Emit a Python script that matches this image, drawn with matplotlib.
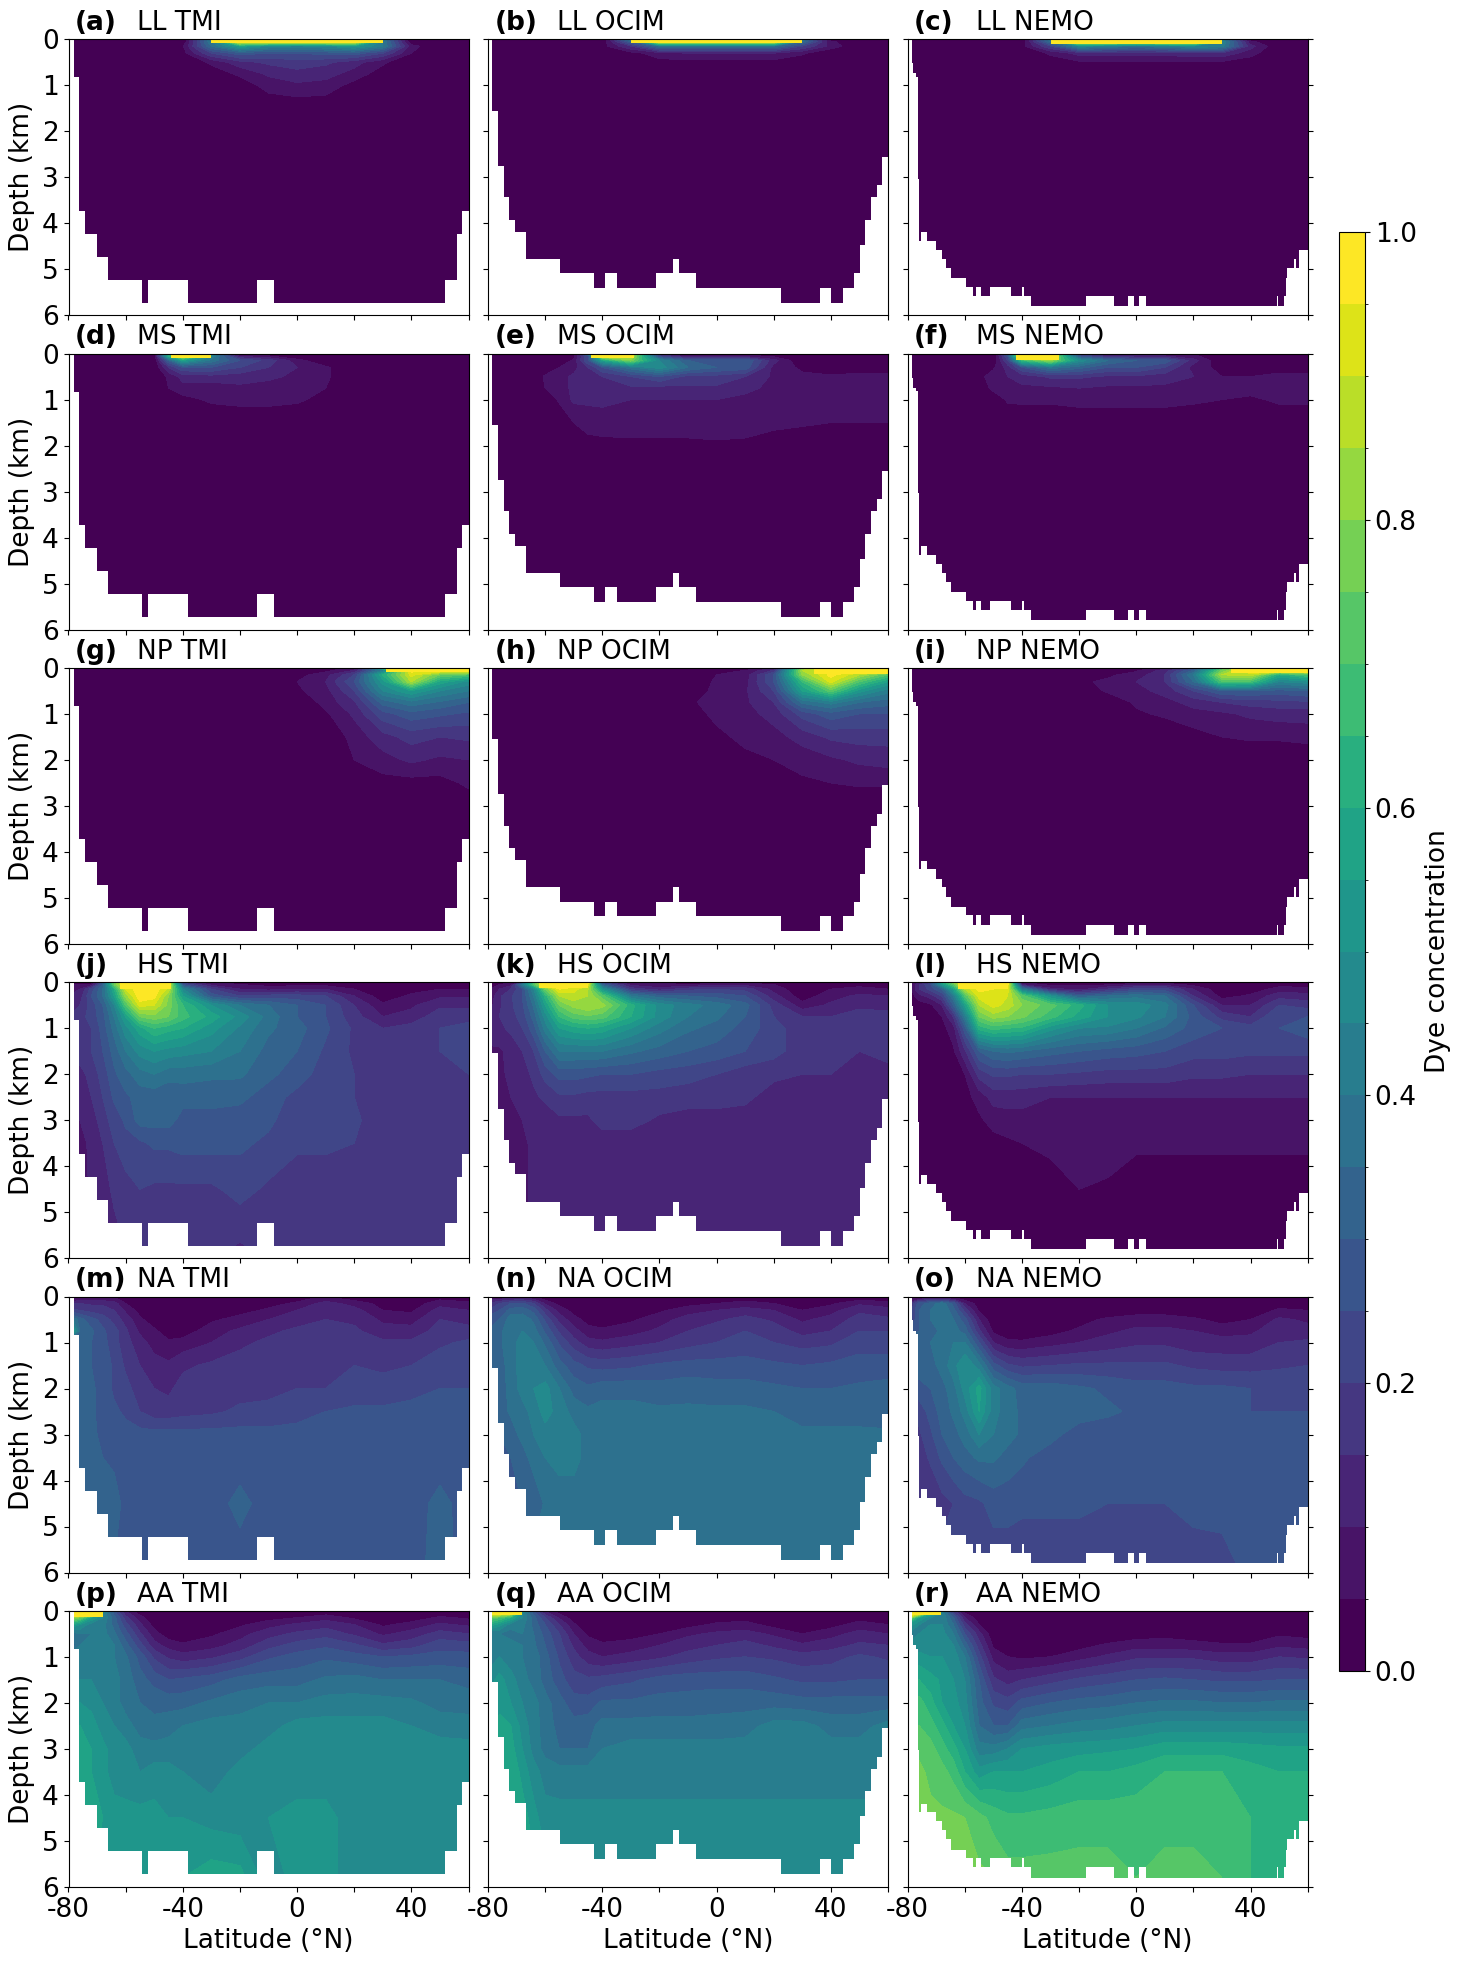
import numpy as np
import matplotlib
matplotlib.use('Agg')
import matplotlib.pyplot as plt
from matplotlib.colors import BoundaryNorm
from matplotlib.cm import ScalarMappable

plt.rcParams['axes.unicode_minus'] = False
plt.rcParams['font.size'] = 19

LAT = [-80,-76,-72,-68,-64,-60,-55,-50,-45,-40,-30,-20,-10,0,10,20,30,40,50,60]
DEPTH = [0,.05,.15,.3,.5,.75,1,1.5,2,2.5,3,3.5,4.5,5.8]

# Bottom staircase of each model: latitude edges and bottom depth (km)
TMI_EDGES = [-80,-78,-76.3,-74.2,-70,-66.1,-54.2,-52.1,-38.1,-14,-8,51.9,56,57.8,60]
TMI_BOTTOM = [0,.83,3.73,4.23,4.73,5.23,5.73,5.23,5.73,5.23,5.73,5.23,4.23,3.73]
OCIM_EDGES = [-80,-78.5,-76.4,-74.3,-72.5,-70.4,-66.6,-54.7,-42.8,-38.9,-34.7,-21.1,-15.1,-13,-7.1,22.7,36.3,40.2,44.4,48.2,50.3,52.1,54.2,56.3,58,60]
OCIM_BOTTOM = [0,1.55,2.75,3.43,3.92,4.18,4.77,5.08,5.4,5.08,5.4,5.08,4.77,5.08,5.4,5.73,5.4,5.73,5.4,5.08,4.47,3.92,3.43,3.17,2.55]
NEMO_EDGES = [-80,-78.6,-78.1,-77.2,-76.4,-76,-75.4,-73.2,-70,-68,-66.6,-64.8,-59.6,-57.1,-56.1,-54.4,-51.2,-43.8,-40,-39.3,-36.8,-17.6,-7.8,-2.9,-.8,1,3.4,49.3,49.6,51.7,52.4,52.8,55.2,55.9,57,60]
NEMO_BOTTOM = [0,.52,.74,.82,3.03,4.38,4.19,4.38,4.58,4.77,4.97,5.19,5.38,5.58,5.38,5.58,5.38,5.58,5.38,5.58,5.8,5.58,5.8,5.58,5.8,5.58,5.8,5.58,5.8,5.58,5.19,4.97,4.77,4.97,4.58]

# Dye concentration in percent; rows follow DEPTH, columns follow LAT; rows left out are zero
LL_TMI = [
[0,0,0,0,0,0,0,0,0,0,40,99,99,99,99,99,40,0,0,0],
[0,0,0,0,0,0,0,0,0,0,40,97,97,97,97,97,40,0,0,0],
[0,0,0,0,0,0,0,0,0,4,35,55,45,42,45,52,40,7,0,0],
[0,0,0,0,0,0,0,0,0,3,20,28,25,25,27,28,20,5,0,0],
[0,0,0,0,0,0,0,0,0,0,6,13,16,18,16,12,6,0,0,0],
[0,0,0,0,0,0,0,0,0,0,2,6,11,13,12,8,2,0,0,0],
[0,0,0,0,0,0,0,0,0,0,0,2,7,9,8,3,0,0,0,0],
[0,0,0,0,0,0,0,0,0,0,0,0,1,1,1,0,0,0,0,0]]
LL_OCIM = [
[0,0,0,0,0,0,0,0,0,0,40,99,99,99,99,99,40,0,0,0],
[0,0,0,0,0,0,0,0,0,0,30,95,95,95,95,95,35,6,0,0],
[0,0,0,0,0,0,0,0,0,3,15,35,35,35,35,35,20,8,0,0],
[0,0,0,0,0,0,0,0,0,0,3,8,10,10,10,10,6,0,0,0],
[0,0,0,0,0,0,0,0,0,0,0,3,3,3,3,3,1,0,0,0]]
LL_NEMO = [
[0,0,0,0,0,0,0,0,0,0,40,99,99,99,99,99,40,0,0,0],
[0,0,0,0,0,0,0,0,0,0,35,97,95,92,95,97,45,6,0,0],
[0,0,0,0,0,0,0,0,0,3,20,45,40,35,40,45,42,12,0,0],
[0,0,0,0,0,0,0,0,0,0,6,12,12,12,12,14,14,7,0,0],
[0,0,0,0,0,0,0,0,0,0,2,4,4,4,4,4,4,2,0,0]]
MS_TMI = [
[0,0,0,0,0,0,0,0,50,99,50,0,0,0,0,0,0,0,0,0],
[0,0,0,0,0,0,0,0,60,88,45,8,5,0,0,0,0,0,0,0],
[0,0,0,0,0,0,0,0,30,55,38,25,18,7,0,0,0,0,0,0],
[0,0,0,0,0,0,0,0,15,25,25,20,15,10,6,0,0,0,0,0],
[0,0,0,0,0,0,0,0,6,12,13,12,11,9,6,0,0,0,0,0],
[0,0,0,0,0,0,0,0,5,8,7,9,8,7,5,0,0,0,0,0],
[0,0,0,0,0,0,0,0,0,3,6,7,7,6,3,0,0,0,0,0]]
MS_OCIM = [
[0,0,0,0,0,0,0,0,40,99,60,5,0,0,0,0,0,0,0,0],
[0,0,0,0,0,0,0,3,25,92,90,20,5,6,7,3,0,0,0,0],
[0,0,0,0,0,0,0,6,25,55,78,45,30,30,30,12,0,0,0,0],
[0,0,0,0,0,0,5,8,15,25,38,48,35,30,28,8,4,0,0,0],
[0,0,0,0,0,6,8,11,13,15,20,25,18,18,15,9,6,6,8,7],
[0,0,0,0,0,5,8,11,14,14,14,13,14,14,12,8,7,7,8,8],
[0,0,0,0,0,0,6,11,11,11,10,10,10,10,8,8,7,7,7,7],
[0,0,0,0,0,0,0,5,7,8,7,7,7,8,7,6,6,5,5,5],
[0,0,0,0,0,0,0,0,3,3,4,4,4,4,4,3,0,0,0,0]]
MS_NEMO = [
[0,0,0,0,0,0,0,0,30,99,85,5,0,0,0,0,0,0,0,0],
[0,0,0,0,0,0,0,0,25,95,92,25,12,10,10,6,0,0,0,0],
[0,0,0,0,0,0,0,0,20,65,82,48,35,30,28,12,0,0,0,0],
[0,0,0,0,0,0,0,4,12,25,38,32,25,25,20,8,3,3,0,0],
[0,0,0,0,0,0,3,8,10,12,16,16,14,14,12,10,5,5,8,8],
[0,0,0,0,0,0,0,7,8,9,9,10,9,9,9,8,6,7,8,8],
[0,0,0,0,0,0,0,0,6,6,6,7,7,7,7,6,5,4,6,6],
[0,0,0,0,0,0,0,0,0,1,1,1,1,1,1,1,0,0,1,1]]
NP_TMI = [
[0,0,0,0,0,0,0,0,0,0,0,0,0,0,0,5,70,99,99,99],
[0,0,0,0,0,0,0,0,0,0,0,0,0,0,3,10,40,97,99,97],
[0,0,0,0,0,0,0,0,0,0,0,0,0,3,8,20,60,92,75,70],
[0,0,0,0,0,0,0,0,0,0,0,0,0,5,10,25,52,85,58,48],
[0,0,0,0,0,0,0,0,0,0,0,0,0,4,8,20,45,55,45,40],
[0,0,0,0,0,0,0,0,0,0,0,0,0,0,7,14,32,38,34,30],
[0,0,0,0,0,0,0,0,0,0,0,0,0,0,4,11,23,28,26,24],
[0,0,0,0,0,0,0,0,0,0,0,0,0,0,0,7,13,17,15,16],
[0,0,0,0,0,0,0,0,0,0,0,0,0,0,0,5,8,11,9,10],
[0,0,0,0,0,0,0,0,0,0,0,0,0,0,0,2,3,3,3,6],
[0,0,0,0,0,0,0,0,0,0,0,0,0,0,0,0,0,0,0,2]]
NP_OCIM = [
[0,0,0,0,0,0,0,0,0,0,0,0,0,0,0,3,50,99,99,99],
[0,0,0,0,0,0,0,0,0,0,0,0,0,3,5,15,85,97,97,92],
[0,0,0,0,0,0,0,0,0,0,0,0,0,5,7,25,80,97,85,70],
[0,0,0,0,0,0,0,0,0,0,0,0,0,6,8,25,65,92,70,55],
[0,0,0,0,0,0,0,0,0,0,0,0,0,7,9,20,55,72,52,42],
[0,0,0,0,0,0,0,0,0,0,0,0,4,7,9,15,36,42,35,32],
[0,0,0,0,0,0,0,0,0,0,0,0,3,6,8,12,22,28,25,25],
[0,0,0,0,0,0,0,0,0,0,0,0,0,4,6,8,12,16,17,17],
[0,0,0,0,0,0,0,0,0,0,0,0,0,0,4,5,7,9,11,12],
[0,0,0,0,0,0,0,0,0,0,0,0,0,0,0,0,4,5,6,6]]
NP_NEMO = [
[0,0,0,0,0,0,0,0,0,0,0,0,0,0,3,8,60,99,99,99],
[0,0,0,0,0,0,0,0,0,0,0,0,0,4,12,30,75,97,97,97],
[0,0,0,0,0,0,0,0,0,0,0,0,4,7,15,40,85,88,60,70],
[0,0,0,0,0,0,0,0,0,0,0,4,6,10,15,35,70,68,45,48],
[0,0,0,0,0,0,0,0,0,0,0,0,6,8,12,20,30,30,28,30],
[0,0,0,0,0,0,0,0,0,0,0,0,0,6,8,12,15,17,18,19],
[0,0,0,0,0,0,0,0,0,0,0,0,0,4,6,8,9,11,12,12],
[0,0,0,0,0,0,0,0,0,0,0,0,0,0,0,3,5,6,6,7]]
HS_TMI = [
[3,3,3,30,75,99,99,99,99,15,5,3,2,2,2,1,0,0,1,1],
[5,5,5,30,75,95,99,99,95,25,8,5,3,3,3,2,0,0,2,2],
[8,10,22,35,60,90,99,99,88,45,20,10,8,10,10,5,2,3,5,5],
[10,12,25,35,55,82,99,97,80,55,28,20,22,22,20,10,2,6,9,9],
[12,15,22,30,45,70,92,90,78,65,50,40,35,30,25,15,6,9,14,14],
[15,18,22,28,40,55,75,78,75,67,58,48,38,30,25,17,10,12,18,18],
[17,18,20,27,37,48,58,65,62,60,52,44,36,32,26,19,15,17,20,22],
[13,18,20,25,32,40,47,50,48,47,45,40,33,30,24,19,17,18,20,23],
[10,13,17,22,29,33,38,40,37,37,36,36,31,28,22,20,17,17,18,20],
[9,11,15,20,26,29,32,32,31,32,32,31,28,23,22,20,17,17,17,19],
[9,10,12,18,22,26,32,32,32,28,28,28,26,22,22,21,17,17,17,17],
[7,7,12,15,20,23,24,26,26,27,27,26,24,21,21,20,17,17,17,17],
[7,7,11,13,16,18,20,19,19,19,19,22,19,17,17,17,17,17,17,17],
[7,7,9,11,13,15,16,16,16,17,17,14,17,17,17,17,17,17,17,17]]
HS_OCIM = [
[3,3,3,5,70,99,99,99,99,15,6,4,3,3,2,1,0,0,0,0],
[3,5,8,40,70,95,99,99,92,30,8,6,5,7,8,5,0,1,3,2],
[4,10,15,25,45,75,95,92,85,50,18,12,18,20,18,8,1,5,7,5],
[5,14,19,25,40,62,85,88,85,72,40,32,30,28,25,12,2,8,11,10],
[7,14,19,24,36,55,75,82,85,82,62,48,42,38,32,18,7,11,14,13],
[13,15,18,22,32,47,65,72,74,72,60,48,40,36,30,20,15,15,17,17],
[13,14,16,20,28,42,55,58,60,58,50,42,36,33,28,22,17,17,20,20],
[9,9,12,15,20,30,40,40,40,40,36,33,30,28,25,22,17,16,15,16],
[9,9,11,13,16,22,27,27,26,25,25,23,22,20,17,16,15,15,14,14],
[8,8,10,12,14,16,19,19,18,18,18,18,17,17,16,13,13,13,13,13],
[7,7,8,10,12,12,14,14,14,17,17,14,13,13,13,12,12,12,12,12],
[7,7,7,8,12,12,12,12,12,12,12,12,12,12,12,12,12,12,12,12],
[7,7,7,8,12,12,12,12,12,12,12,12,12,12,12,12,12,12,12,12],
[7,7,7,8,12,12,12,12,12,12,12,12,12,12,12,12,12,12,12,12]]
HS_NEMO = [
[0,8,12,60,80,99,99,99,99,3,2,1,1,1,1,0,0,0,0,0],
[0,15,25,50,72,95,99,99,97,10,3,4,4,8,8,3,0,0,3,2],
[0,15,22,30,55,85,97,95,92,40,12,8,15,22,22,10,1,2,7,7],
[0,8,12,20,40,70,92,92,90,72,50,30,35,38,35,15,3,6,13,12],
[0,2,4,10,30,55,85,92,88,80,72,62,50,48,42,25,10,10,20,18],
[0,0,2,5,15,40,75,82,80,76,67,58,50,46,40,28,18,15,25,25],
[0,0,1,3,8,28,62,67,65,64,52,45,44,40,34,28,25,22,25,28],
[0,0,0,1,4,14,30,35,36,35,32,30,28,27,25,22,22,21,21,21],
[0,0,0,0,2,5,17,21,21,20,20,19,18,18,18,16,16,15,15,15],
[0,0,0,0,1,3,7,12,12,12,10,10,10,10,10,10,10,10,10,10],
[0,0,0,0,0,1,4,7,8,8,8,8,8,8,8,8,8,8,8,8],
[0,0,0,0,0,0,2,3,4,5,6,8,8,6,6,6,6,6,6,6],
[0,0,0,0,0,0,0,0,1,2,3,5,4,2,2,2,2,2,2,2],
[0,0,0,0,0,0,0,0,0,1,1,1,1,1,1,1,1,1,1,1]]
NA_TMI = [
[0,1,2,3,2,1,0,0,0,0,0,0,0,0,2,0,0,0,1,1],
[5,6,7,7,6,2,0,0,0,0,0,0,1,3,7,3,1,1,4,3],
[14,15,14,14,12,5,1,0,0,0,0,1,3,6,12,8,3,2,8,6],
[22,20,18,17,15,9,3,1,0,0,1,3,6,10,15,12,5,4,12,10],
[45,32,27,23,18,13,6,2,1,1,4,7,10,13,15,14,9,8,15,13],
[70,34,31,26,22,16,9,6,2,2,8,11,14,16,17,16,12,12,17,17],
[30,32,30,27,22,17,12,8,6,7,10,14,16,18,19,18,16,16,19,21],
[30,32,30,28,24,19,15,12,11,14,16,17,18,19,20,20,19,20,23,24],
[32,32,31,28,24,22,17,15,14,17,18,18,19,20,20,22,22,24,25,25],
[32,32,31,28,26,24,20,17,17,18,19,21,21,23,25,26,26,26,26,26],
[32,32,31,29,27,27,27,27,27,27,27,27,27,27,27,27,27,27,27,27],
[32,32,32,30,28,27,27,27,27,27,27,27,27,27,27,27,27,27,27,27],
[32,32,32,32,34,27,27,27,27,27,27,32,27,27,27,27,27,27,32,27],
[30,30,30,30,30,27,27,27,27,27,27,27,27,27,27,27,27,27,33,27]]
NA_OCIM = [
[0,3,5,5,3,1,0,0,0,0,0,0,0,0,1,0,0,0,1,1],
[7,9,11,12,9,3,1,0,0,0,0,0,1,2,3,2,0,1,3,2],
[15,20,25,26,20,9,3,1,0,0,0,1,3,5,7,5,2,4,9,7],
[20,25,32,33,28,17,8,3,1,0,1,4,8,10,12,10,5,8,14,12],
[27,30,38,38,34,24,13,7,3,2,4,8,12,14,17,14,9,12,17,16],
[30,33,40,40,37,29,19,12,7,6,8,11,15,18,20,18,13,15,20,20],
[33,34,38,42,40,34,24,17,12,11,13,15,18,20,22,20,18,19,23,23],
[30,32,38,42,43,40,32,27,24,23,24,26,27,27,27,26,25,26,27,27],
[30,32,37,42,45,47,40,33,31,33,33,32,33,32,32,31,30,30,31,32],
[27,32,36,38,42,47,43,38,36,37,37,36,36,36,36,35,33,33,33,32],
[27,30,32,37,40,43,43,42,38,37,37,37,37,37,37,37,36,36,36,36],
[28,30,30,32,38,40,42,42,38,37,37,37,37,37,37,37,37,37,37,37],
[30,30,30,30,30,36,37,37,37,37,37,37,37,37,37,37,37,37,37,37],
[37,37,37,37,37,37,37,37,37,37,37,37,37,37,37,37,37,37,37,37]]
NA_NEMO = [
[0,1,2,2,2,1,0,0,0,0,0,0,0,0,0,0,0,0,0,0],
[5,8,12,12,8,2,0,0,0,0,0,0,0,0,0,0,0,0,0,0],
[10,28,32,38,28,10,2,0,0,0,0,0,0,0,0,0,0,0,2,2],
[15,30,35,40,32,18,4,0,0,0,0,0,1,2,2,1,0,1,6,5],
[15,30,35,37,35,27,10,1,0,0,1,3,6,8,8,6,3,5,11,9],
[28,30,33,36,37,33,16,4,2,1,3,6,9,11,11,10,8,9,13,12],
[32,32,35,38,40,40,25,10,6,6,8,10,12,14,14,12,12,12,15,16],
[30,33,33,37,43,50,42,27,21,19,20,21,21,21,21,19,18,18,19,20],
[28,28,30,33,38,47,57,42,37,33,33,31,29,27,27,26,26,25,25,25],
[22,22,27,32,36,42,55,42,37,34,33,33,31,29,29,29,27,25,25,25],
[17,19,24,30,33,37,45,40,37,34,32,27,27,27,27,27,27,27,27,27],
[15,17,21,26,30,33,36,36,33,31,27,27,27,27,27,27,27,27,27,27],
[15,15,15,18,20,23,24,27,27,26,26,26,25,25,25,27,27,27,27,27],
[22,22,22,22,22,22,22,22,22,22,22,22,22,22,22,22,23,27,27,27]]
AA_TMI = [
[99,99,99,50,28,8,1,0,0,0,0,0,0,0,0,0,0,0,0,0],
[99,99,99,45,28,12,3,0,0,0,0,0,0,1,3,0,0,0,2,1],
[85,75,55,45,32,17,7,1,0,0,0,1,3,5,8,4,1,2,6,4],
[60,50,42,42,33,22,11,3,0,0,1,4,8,11,13,10,4,7,11,9],
[32,40,40,42,36,27,16,7,2,1,4,8,13,16,18,14,9,12,17,15],
[27,40,42,42,40,32,22,12,8,6,8,12,18,22,24,21,16,18,23,22],
[40,42,42,42,40,36,28,19,14,12,14,18,24,27,29,27,25,26,27,27],
[45,45,45,45,42,38,32,28,25,26,28,32,33,33,36,37,35,35,35,33],
[45,50,48,45,42,38,35,34,33,33,36,38,40,40,42,42,42,41,38,38],
[47,55,53,47,45,42,38,36,38,40,42,42,43,47,47,47,47,45,43,42],
[55,57,55,52,47,47,42,42,42,42,43,43,47,47,47,47,47,47,47,47],
[55,57,55,52,47,47,45,47,47,45,42,47,47,47,47,47,47,47,47,47],
[62,60,57,55,53,52,52,52,50,50,48,47,50,52,52,47,47,47,47,47],
[55,55,55,55,55,53,52,52,55,55,58,57,47,52,52,47,47,47,47,47]]
AA_OCIM = [
[99,99,99,60,25,5,0,0,0,0,0,0,0,0,0,0,0,0,0,0],
[99,97,92,45,28,12,4,0,0,0,0,0,0,0,0,0,0,0,0,0],
[75,70,60,45,32,20,9,2,0,0,0,0,1,2,3,1,0,0,3,2],
[60,52,42,42,33,25,15,6,1,0,0,1,3,6,7,3,1,3,7,5],
[40,40,38,40,35,28,20,10,4,2,3,5,9,11,12,9,5,8,12,10],
[42,42,42,40,36,30,22,14,8,6,7,10,13,15,17,14,11,13,16,15],
[42,45,42,40,38,32,24,17,12,10,12,14,17,19,20,19,17,18,21,19],
[47,52,47,42,38,33,27,22,21,22,24,27,28,28,28,26,24,24,25,25],
[52,53,50,45,42,37,32,27,27,31,31,32,32,33,33,33,32,32,32,32],
[52,57,55,48,42,38,33,32,33,37,37,37,37,37,38,42,42,38,38,42],
[57,58,57,50,43,38,35,35,35,40,42,42,42,42,42,42,42,42,42,42],
[57,60,60,53,47,43,42,42,42,42,42,42,42,42,42,42,42,42,42,42],
[60,60,60,58,52,47,47,47,47,47,47,47,47,47,47,47,47,47,47,47],
[57,57,57,57,57,52,47,47,47,47,47,47,47,47,47,47,47,47,47,47]]
AA_NEMO = [
[99,99,99,30,15,3,0,0,0,0,0,0,0,0,0,0,0,0,0,0],
[99,99,60,45,20,5,0,0,0,0,0,0,0,0,0,0,0,0,0,0],
[85,55,45,45,30,10,2,0,0,0,0,0,0,0,0,0,0,0,0,0],
[55,45,45,45,35,17,5,0,0,0,0,0,0,0,0,0,0,0,0,0],
[45,45,47,47,40,25,12,1,0,0,0,0,0,2,3,2,0,0,4,3],
[45,47,47,48,45,33,17,4,1,0,1,3,6,8,8,7,6,6,9,8],
[50,52,50,50,48,40,22,8,5,4,5,8,11,14,14,14,12,12,15,14],
[58,60,57,54,50,45,30,16,13,15,18,21,23,25,26,25,24,24,25,25],
[65,67,62,55,52,47,32,24,22,27,30,32,33,35,36,36,35,35,36,36],
[72,70,67,62,55,50,35,30,30,38,40,42,43,45,47,47,47,47,47,47],
[74,74,72,67,62,55,42,42,45,50,52,53,54,55,58,58,58,57,56,56],
[75,76,74,72,68,60,52,55,55,55,57,60,60,62,65,65,65,62,60,60],
[78,78,76,76,76,75,72,68,66,66,67,68,68,68,68,68,68,65,65,65],
[75,75,77,77,78,77,76,75,72,72,72,72,72,70,72,72,70,65,65,65]]

# Full-strength surface patch of each panel: south edge, north edge, depth (km)
CAP_LO = [-30,-30,-30,-44,-44,-42,31,34,33,-62,-62,-62.5,0,0,0,-78,-78.5,-78.5]
CAP_HI = [30,30,30,-30,-29,-27,60,60,60,-44,-45,-45,0,0,0,-68,-68,-68.5]
CAP_D = [.09,.08,.1,.09,.1,.14,.09,.14,.11,.15,.12,.15,0,0,0,.13,.1,.09]

REGIONS = ['LL','MS','NP','HS','NA','AA']
MODELS = ['TMI','OCIM','NEMO']
PANELS = [LL_TMI,LL_OCIM,LL_NEMO,MS_TMI,MS_OCIM,MS_NEMO,NP_TMI,NP_OCIM,NP_NEMO,
          HS_TMI,HS_OCIM,HS_NEMO,NA_TMI,NA_OCIM,NA_NEMO,AA_TMI,AA_OCIM,AA_NEMO]
LETTERS = 'abcdefghijklmnopqr'
EDGES = [TMI_EDGES,OCIM_EDGES,NEMO_EDGES]
BOTTOMS = [TMI_BOTTOM,OCIM_BOTTOM,NEMO_BOTTOM]

W, H = 1457, 1964
fig = plt.figure(figsize=(W/100, H/100), dpi=100)
levels = np.linspace(0, 1, 21)
cmap = plt.get_cmap('viridis').resampled(20)
norm = BoundaryNorm(levels, 20)
COL_X = [68.5, 488.0, 907.7]
ROW_Y = [39.3, 353.6, 667.9, 982.2, 1296.5, 1610.8]
AW, AH = 400, 276

for k, table in enumerate(PANELS):
    r, c = divmod(k, 3)
    ax = fig.add_axes([COL_X[c]/W, 1-(ROW_Y[r]+AH)/H, AW/W, AH/H])
    grid = np.zeros((len(DEPTH), len(LAT)))
    for i, row in enumerate(table):
        assert len(row) == len(LAT), (k, i)
        grid[i] = row
    ax.contourf(LAT, DEPTH, np.clip(grid/100, .001, .999), levels=levels, cmap=cmap, norm=norm, zorder=1)
    if CAP_D[k] > 0:
        ax.fill_between([CAP_LO[k], CAP_HI[k]], 0, CAP_D[k], color=cmap(19), lw=0, zorder=1.5)
    e = np.array(EDGES[c], float)
    b = np.array(BOTTOMS[c], float)
    ax.fill_between(e, np.r_[b, b[-1]], 6, step='post', color='white', lw=0, zorder=2)
    ax.set_xlim(-80, 60)
    ax.set_ylim(6, 0)
    ax.set_xticks(np.arange(-80, 61, 20))
    ax.set_yticks(range(7))
    if r == 5:
        ax.set_xticklabels(['-80','','-40','','0','','40',''], fontsize=19)
        ax.set_xlabel('Latitude (°N)', fontsize=19, labelpad=4)
    else:
        ax.set_xticklabels([])
    if c == 0:
        ax.set_ylabel('Depth (km)', fontsize=19, labelpad=5)
        ax.tick_params(axis='y', labelsize=19)
    else:
        ax.set_yticklabels([])
    if c == 2:
        ax.tick_params(axis='y', right=True)
    ax.text(.016, 1.033, f'({LETTERS[k]})', transform=ax.transAxes, fontsize=19, fontweight='bold', va='baseline')
    ax.text(.172, 1.033, f'{REGIONS[r]} {MODELS[c]}', transform=ax.transAxes, fontsize=19, va='baseline')

cax = fig.add_axes([1339/W, 1-1671/H, 26/W, (1671-232)/H])
cb = fig.colorbar(ScalarMappable(norm=norm, cmap=cmap), cax=cax, ticks=np.arange(0, 1.01, .2))
cb.ax.yaxis.set_ticks(levels, minor=True)
cb.ax.tick_params(labelsize=19)
cb.ax.set_yticklabels(['0.0','0.2','0.4','0.6','0.8','1.0'])
cb.set_label('Dye concentration', fontsize=19, labelpad=6)

fig.savefig('out.png', dpi=100)
